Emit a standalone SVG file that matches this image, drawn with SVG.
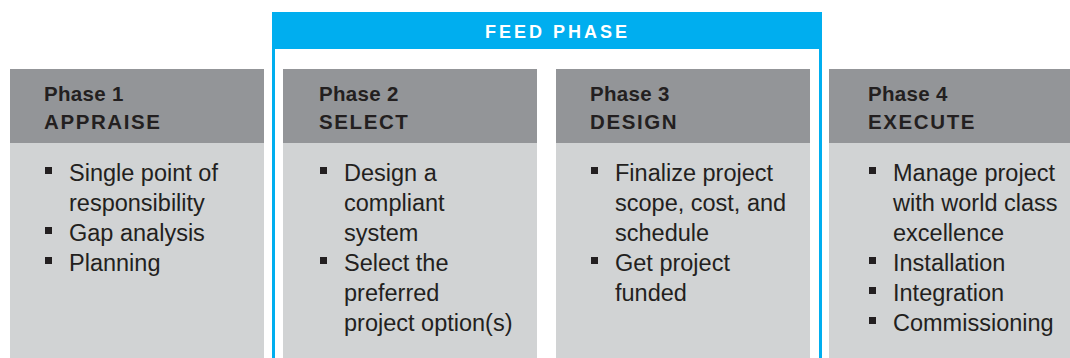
<svg xmlns="http://www.w3.org/2000/svg" width="1070" height="358" viewBox="0 0 1070 358">
<style>
.hd{fill:#939598}
.bd{fill:#d1d3d4}
.h1{font-family:"Liberation Sans",Arial,sans-serif;font-weight:bold;font-size:20.5px;fill:#231f20;letter-spacing:0.3px}
.h2{font-family:"Liberation Sans",Arial,sans-serif;font-weight:bold;font-size:20.5px;fill:#231f20;letter-spacing:1.6px}
.t{font-family:"Liberation Sans",Arial,sans-serif;font-size:23.5px;fill:#231f20}
.b{fill:#231f20}
.feed{font-family:"Liberation Sans",Arial,sans-serif;font-weight:bold;font-size:18px;fill:#ffffff;letter-spacing:3px}
</style>
<rect width="1070" height="358" fill="#ffffff"/>
<g id="feed-phase">
<rect x="273.5" y="13.5" width="547" height="360" fill="none" stroke="#00aeef" stroke-width="3"/>
<rect x="272" y="12" width="550" height="37" fill="#00aeef"/>
<text class="feed" x="485" y="38">FEED PHASE</text>
</g>
<g id="phase1">
<rect class="hd" x="10" y="69" width="254" height="74"/>
<rect class="bd" x="10" y="143" width="254" height="215"/>
<text class="h1" x="44" y="101">Phase 1</text>
<text class="h2" x="44" y="129">APPRAISE</text>
<rect class="b" x="45" y="167" width="7" height="7"/>
<text class="t" x="69" y="181">Single point of</text>
<text class="t" x="69" y="211">responsibility</text>
<rect class="b" x="45" y="227" width="7" height="7"/>
<text class="t" x="69" y="241">Gap analysis</text>
<rect class="b" x="45" y="257" width="7" height="7"/>
<text class="t" x="69" y="271">Planning</text>
</g>
<g id="phase2">
<rect class="hd" x="283" y="69" width="254" height="74"/>
<rect class="bd" x="283" y="143" width="254" height="215"/>
<text class="h1" x="319" y="101">Phase 2</text>
<text class="h2" x="319" y="129">SELECT</text>
<rect class="b" x="320" y="167" width="7" height="7"/>
<text class="t" x="344" y="181">Design a</text>
<text class="t" x="344" y="211">compliant</text>
<text class="t" x="344" y="241">system</text>
<rect class="b" x="320" y="257" width="7" height="7"/>
<text class="t" x="344" y="271">Select the</text>
<text class="t" x="344" y="301">preferred</text>
<text class="t" x="344" y="331">project option(s)</text>
</g>
<g id="phase3">
<rect class="hd" x="556" y="69" width="254" height="74"/>
<rect class="bd" x="556" y="143" width="254" height="215"/>
<text class="h1" x="590" y="101">Phase 3</text>
<text class="h2" x="590" y="129">DESIGN</text>
<rect class="b" x="591" y="167" width="7" height="7"/>
<text class="t" x="615" y="181">Finalize project</text>
<text class="t" x="615" y="211">scope, cost, and</text>
<text class="t" x="615" y="241">schedule</text>
<rect class="b" x="591" y="257" width="7" height="7"/>
<text class="t" x="615" y="271">Get project</text>
<text class="t" x="615" y="301">funded</text>
</g>
<g id="phase4">
<rect class="hd" x="829" y="69" width="241" height="74"/>
<rect class="bd" x="829" y="143" width="241" height="215"/>
<text class="h1" x="868" y="101">Phase 4</text>
<text class="h2" x="868" y="129">EXECUTE</text>
<rect class="b" x="869" y="167" width="7" height="7"/>
<text class="t" x="893" y="181">Manage project</text>
<text class="t" x="893" y="211">with world class</text>
<text class="t" x="893" y="241">excellence</text>
<rect class="b" x="869" y="257" width="7" height="7"/>
<text class="t" x="893" y="271">Installation</text>
<rect class="b" x="869" y="287" width="7" height="7"/>
<text class="t" x="893" y="301">Integration</text>
<rect class="b" x="869" y="317" width="7" height="7"/>
<text class="t" x="893" y="331">Commissioning</text>
</g>
</svg>
